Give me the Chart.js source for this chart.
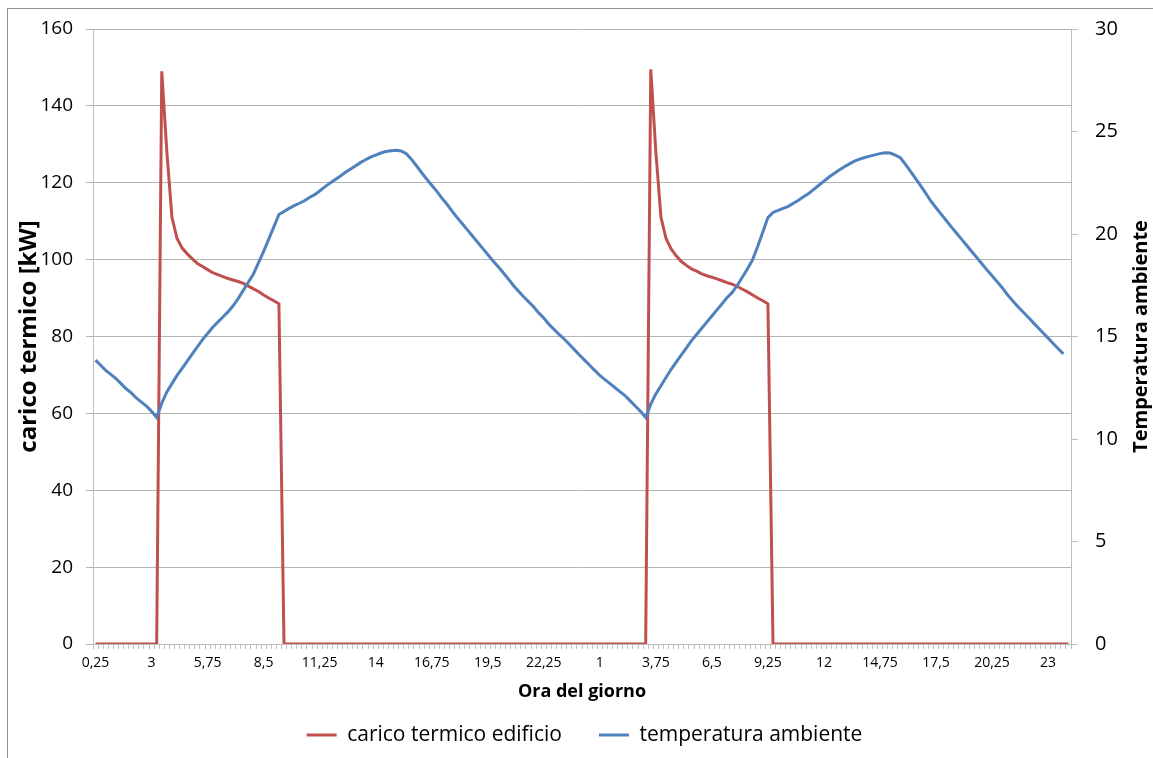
<!DOCTYPE html>
<html><head><meta charset="utf-8">
<script src="https://cdn.jsdelivr.net/npm/chart.js@4.4.1/dist/chart.umd.min.js"></script>
<style>html,body{margin:0;padding:0;background:#fff;overflow:hidden}#wrap{width:1153px;height:758px;position:relative}</style>
</head><body><div id="wrap"><canvas id="c" width="1153" height="758"></canvas></div>
<script>
// ---- data ----
const hours = ["0,25","0,5","0,75","1","1,25","1,5","1,75","2","2,25","2,5","2,75","3","3,25","3,5","3,75","4","4,25","4,5","4,75","5","5,25","5,5","5,75","6","6,25","6,5","6,75","7","7,25","7,5","7,75","8","8,25","8,5","8,75","9","9,25","9,5","9,75","10","10,25","10,5","10,75","11","11,25","11,5","11,75","12","12,25","12,5","12,75","13","13,25","13,5","13,75","14","14,25","14,5","14,75","15","15,25","15,5","15,75","16","16,25","16,5","16,75","17","17,25","17,5","17,75","18","18,25","18,5","18,75","19","19,25","19,5","19,75","20","20,25","20,5","20,75","21","21,25","21,5","21,75","22","22,25","22,5","22,75","23","23,25","23,5","23,75","24"];
const categories = hours.concat(hours);

const caricoTermico = [
  0,0,0,0,0,0,0,0,0,0,0,0,0,
  149,128,111,105.5,103,101.5,100.2,99,98.2,97.4,96.6,96.1,95.6,95.1,94.7,94.3,93.8,93.1,92.4,91.7,90.8,90,89.3,88.5,
  0,0,0,0,0,0,0,0,0,0,0,0,0,0,0,0,0,0,0,0,0,0,0,0,0,0,0,0,0,0,0,0,0,0,0,0,
  0,0,0,0,0,0,0,0,0,0,0,0,0,0,0,0,0,0,0,0,0,0,0,0,0,0,0,0,0,0,0,0,0,0,0,0,
  149.5,128,111,105.5,102.8,101,99.5,98.5,97.6,97,96.3,95.8,95.4,95,94.5,94,93.6,93,92.3,91.6,90.8,90,89.3,88.5,
  0,0,0,0,0,0,0,0,0,0,0,0,0,0,0,0,0,0,0,0,0,0,0,0,0,0,0,0,0,0,
  0,0,0,0,0,0,0,0,0,0,0,0,0,0,0,0,0,0,0,0,0,0,0,0,0,0,0,0,0
];

const temperatura = [
  13.85,13.6,13.35,13.15,12.95,12.7,12.45,12.25,12.0,11.8,11.6,11.35,11.05,
  11.75,12.3,12.7,13.1,13.45,13.8,14.15,14.5,14.85,15.15,15.45,15.7,15.95,16.2,16.5,16.85,17.25,17.65,18.05,18.6,19.15,19.75,20.35,20.95,
  21.1,21.25,21.38,21.5,21.62,21.78,21.92,22.1,22.3,22.48,22.65,22.82,23.0,23.16,23.32,23.48,23.62,23.75,23.85,23.95,24.02,24.06,24.08,24.05,
  23.92,23.65,23.33,23.0,22.68,22.38,22.08,21.75,21.45,21.12,20.8,20.5,20.2,19.9,19.6,19.3,19.0,18.7,18.42,18.12,17.82,17.5,17.22,
  16.95,16.7,16.45,16.15,15.9,15.6,15.35,15.1,14.88,14.62,14.36,14.1,
  13.85,13.6,13.35,13.1,12.9,12.7,12.5,12.3,12.1,11.85,11.6,11.35,11.05,
  11.7,12.2,12.6,13.0,13.4,13.75,14.1,14.45,14.8,15.1,15.4,15.7,16.0,16.3,16.6,16.9,17.15,17.5,17.9,18.3,18.75,19.4,20.1,20.8,
  21.05,21.15,21.25,21.35,21.5,21.65,21.82,21.98,22.18,22.38,22.58,22.78,22.95,23.12,23.28,23.42,23.55,23.65,23.73,23.8,23.86,23.92,23.96,23.95,23.85,
  23.72,23.4,23.05,22.7,22.35,21.98,21.6,21.28,20.97,20.66,20.35,20.05,19.75,19.45,19.15,18.85,18.55,18.25,17.96,17.67,17.38,17.05,16.75,
  16.48,16.22,15.96,15.7,15.44,15.18,14.92,14.66,14.4,14.15,null
];

const seriesNames = ["carico termico edificio","temperatura ambiente"];
const leftTitle = "carico termico [kW]";
const rightTitle = "Temperatura ambiente";
const xTitle = "Ora del giorno";
const labelEvery = 11;

// ---- styling ----
const FAM = "'Open Sans', sans-serif";
const gridColor = '#b4b4b4';
const axisColor = '#bdbdbd';

const framePlugin = {
  id: 'frame',
  beforeDraw(chart) {
    const ctx = chart.ctx;
    ctx.save();
    ctx.fillStyle = '#fff';
    ctx.fillRect(0, 0, chart.width, chart.height);
    ctx.strokeStyle = '#8f8f8f';
    ctx.lineWidth = 1;
    ctx.strokeRect(7.5, 8.5, chart.width + 20, chart.height + 20);
    ctx.restore();
  },
  afterDraw(chart) {
    const ctx = chart.ctx;
    const a = chart.chartArea;
    const s = chart.scales.y1;
    ctx.save();
    ctx.font = "bold 20px " + FAM;
    ctx.fillStyle = '#000';
    ctx.textAlign = 'center';
    ctx.textBaseline = 'middle';
    ctx.translate(s.right - 11.5, (a.top + a.bottom) / 2);
    ctx.rotate(-Math.PI / 2);
    ctx.fillText(rightTitle, 0, 0);
    ctx.restore();
  }
};

new Chart(document.getElementById('c'), {
  type: 'line',
  data: {
    labels: categories,
    datasets: [
      { label: seriesNames[0], data: caricoTermico, yAxisID: 'y', borderColor: '#C0504D', backgroundColor: '#C0504D',
        borderWidth: 3, pointRadius: 0, tension: 0, order: 1 },
      { label: seriesNames[1], data: temperatura, yAxisID: 'y1', borderColor: '#4F81BD', backgroundColor: '#4F81BD',
        borderWidth: 3, pointRadius: 0, tension: 0, order: 0 }
    ]
  },
  options: {
    responsive: false, animation: false, devicePixelRatio: 1,
    layout: { padding: { left: 16, top: 28, right: 0, bottom: 2.5 } },
    plugins: {
      tooltip: { enabled: false },
      legend: {
        position: 'bottom',
        labels: {
          font: { family: FAM, size: 21 }, color: '#000', boxWidth: 30, boxHeight: 3, padding: 37,
          generateLabels: (chart) => chart.data.datasets.map((ds, i) => ({
            text: ds.label, fillStyle: ds.borderColor, strokeStyle: ds.borderColor, lineWidth: 0,
            hidden: false, datasetIndex: i, fontColor: '#000'
          }))
        }
      }
    },
    scales: {
      x: {
        type: 'category', offset: true,
        grid: { display: true, drawOnChartArea: false, drawTicks: true, tickLength: 5, color: axisColor, offset: true },
        border: { display: true, color: axisColor },
        ticks: { autoSkip: false, maxRotation: 0, minRotation: 0, padding: 6, color: '#000',
          font: { family: FAM, size: 14 },
          callback: (v, i) => (i % labelEvery === 0 ? categories[i] : '') },
        title: { display: true, text: xTitle, color: '#000', font: { family: FAM, size: 18, weight: 'bold' },
          padding: { top: 0, bottom: -15.4 } },
        afterFit: (s) => { s.height = 43.5; }
      },
      y: {
        position: 'left', min: 0, max: 160,
        ticks: { stepSize: 20, padding: 13, color: '#000', font: { family: FAM, size: 19 } },
        grid: { color: gridColor, tickLength: 7, drawTicks: true },
        border: { color: axisColor },
        title: { display: true, text: leftTitle, color: '#000', font: { family: FAM, size: 24, weight: 'bold' },
          padding: { top: -1, bottom: 0 } },
        afterFit: (s) => { s.width = 77; }
      },
      y1: {
        position: 'right', min: 0, max: 30,
        ticks: { stepSize: 5, padding: 17, color: '#000', font: { family: FAM, size: 20 } },
        grid: { drawOnChartArea: false, tickLength: 7, color: axisColor },
        border: { color: axisColor },
        afterFit: (s) => { s.width = 82; }
      }
    }
  },
  plugins: [framePlugin]
});
</script>
</body></html>
